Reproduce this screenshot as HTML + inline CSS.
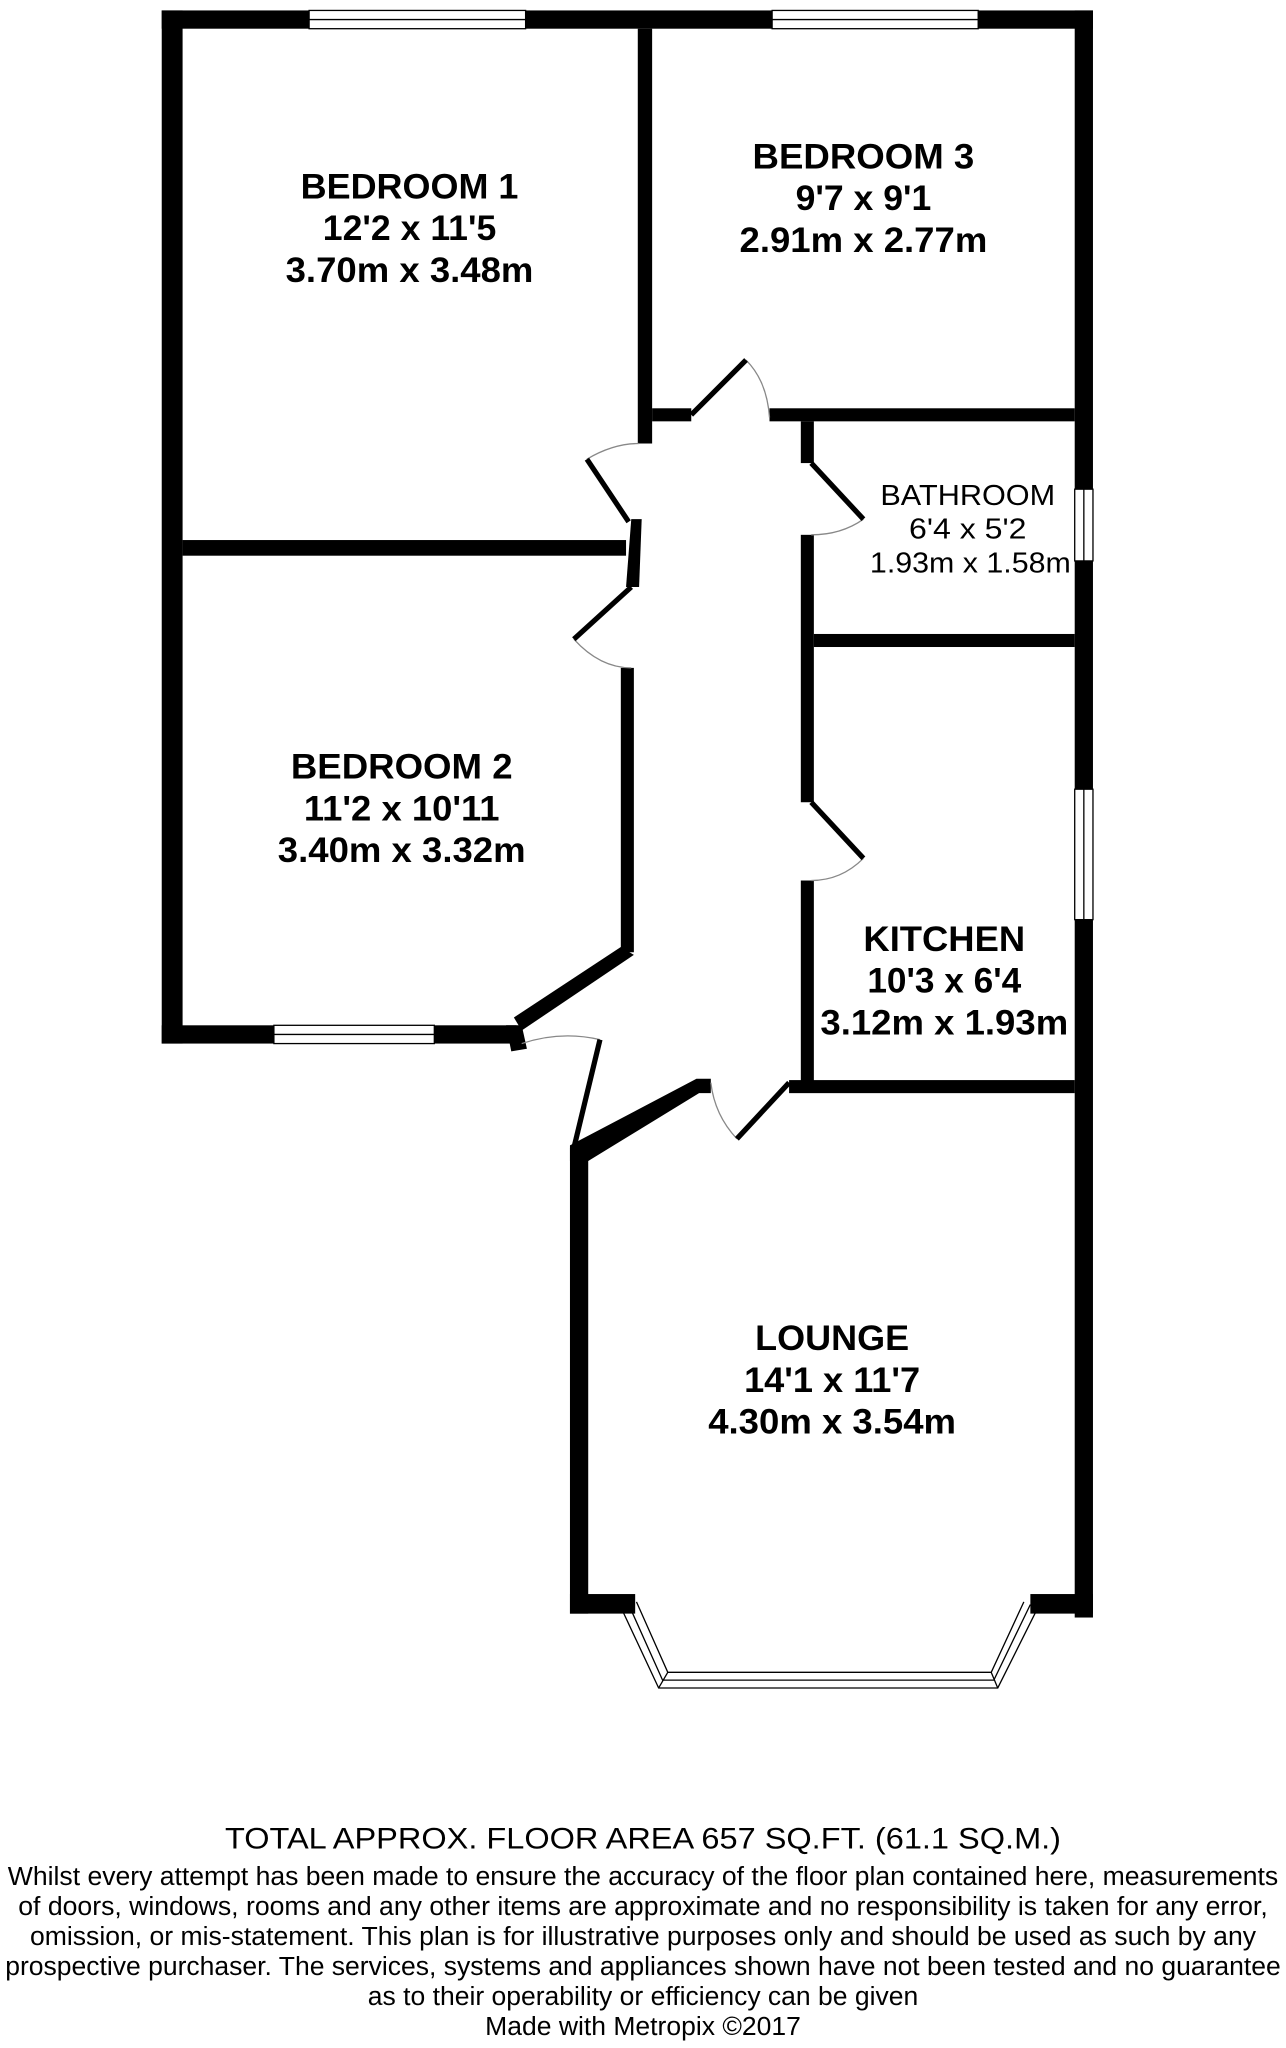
<!DOCTYPE html>
<html><head><meta charset="utf-8"><style>
html,body{margin:0;padding:0;background:#fff;}
svg{display:block}
text{font-family:"Liberation Sans Narrow","Liberation Sans",sans-serif;fill:#000}
.r{font-size:27px;font-weight:bold;text-anchor:middle}
.s{font-size:22px;text-anchor:middle}
.f{font-size:20px;text-anchor:middle}
</style></head><body>
<svg width="1286" height="2048" viewBox="0 0 986 1570" preserveAspectRatio="none" xmlns="http://www.w3.org/2000/svg">
<g fill="#000">
<!-- outer -->
<rect x="124" y="8" width="16" height="792"/>
<rect x="124" y="8" width="714" height="14"/>
<rect x="824" y="8" width="14" height="1232"/>
<!-- bed1/bed3 divider -->
<rect x="489" y="22" width="11" height="318"/>
<polygon points="484,398 492,398 490,450 480,450"/>
<!-- bed3 bottom -->
<rect x="500" y="313" width="30" height="10"/>
<rect x="590" y="313" width="234" height="10"/>
<!-- bathroom left / kitchen left -->
<rect x="614" y="323" width="10" height="32"/>
<rect x="614" y="410" width="10" height="205"/>
<rect x="614" y="675" width="10" height="160"/>
<!-- bathroom bottom -->
<rect x="624" y="486" width="200" height="10"/>
<!-- bed1 bottom -->
<rect x="140" y="414" width="340" height="12"/>
<!-- bed2 right -->
<rect x="476" y="512" width="10" height="218"/>
<polygon points="476,726 486,732 400,790 394,780"/>
<!-- bed2 bottom -->
<rect x="124" y="786" width="272" height="14"/>
<polygon points="388,786 400,786 404,804 392,806"/>
<!-- lounge top -->
<polygon points="437,878 534,827 545,827 545,838 536,838 451,890 437,890"/>
<rect x="605" y="828" width="219" height="10"/>
<!-- lounge left -->
<rect x="437" y="880" width="14" height="357"/>
<rect x="437" y="1222" width="50" height="15"/>
<rect x="790" y="1222" width="48" height="15"/>
</g>
<!-- windows -->
<g fill="#fff" stroke="#000" stroke-width="1">
<rect x="237" y="8" width="166" height="14"/>
<rect x="592" y="8" width="158" height="14"/>
<rect x="210" y="786" width="123" height="14"/>
<rect x="824" y="375" width="14" height="55"/>
<rect x="824" y="605" width="14" height="100"/>
</g>
<g stroke="#000" stroke-width="1" fill="none">
<line x1="237" y1="15" x2="403" y2="15"/><line x1="592" y1="15" x2="750" y2="15"/>
<line x1="210" y1="793" x2="333" y2="793"/><line x1="831" y1="375" x2="831" y2="430"/>
<line x1="831" y1="605" x2="831" y2="705"/>
<!-- bay -->
<polyline points="488,1228 512,1282 760,1282 785,1228"/>
<polyline points="476,1232 505,1294 765,1294 796,1232"/>
<polyline points="482,1230 508,1288 762,1288 790,1230"/>
<line x1="512" y1="1282" x2="505" y2="1294"/><line x1="760" y1="1282" x2="765" y2="1294"/>
<!-- door arcs -->
<path d="M572,276 Q588,292 590,320" stroke="#888"/>
<path d="M450,352 Q470,340 490,340" stroke="#888"/>
<path d="M440,490 Q460,512 484,512" stroke="#888"/>
<path d="M662,398 Q645,410 622,410" stroke="#888"/>
<path d="M662,658 Q645,675 622,675" stroke="#888"/>
<path d="M565,873 Q548,855 545,830" stroke="#888"/>
<path d="M400,800 Q430,790 460,797" stroke="#888"/>
</g>
<g stroke="#000" stroke-width="4" fill="none">
<line x1="530" y1="318" x2="572" y2="276"/>
<line x1="482" y1="400" x2="450" y2="352"/>
<line x1="484" y1="450" x2="440" y2="490"/>
<line x1="622" y1="355" x2="662" y2="398"/>
<line x1="622" y1="615" x2="662" y2="658"/>
<line x1="605" y1="830" x2="565" y2="873"/>
<line x1="460" y1="797" x2="440" y2="880"/>
</g>
<text class="r" x="314" y="152" textLength="167" lengthAdjust="spacingAndGlyphs">BEDROOM 1</text>
<text class="r" x="314" y="184" textLength="133" lengthAdjust="spacingAndGlyphs">12'2 x 11'5</text>
<text class="r" x="314" y="216" textLength="190" lengthAdjust="spacingAndGlyphs">3.70m x 3.48m</text>
<text class="r" x="662" y="129" textLength="170" lengthAdjust="spacingAndGlyphs">BEDROOM 3</text>
<text class="r" x="662" y="161" textLength="104" lengthAdjust="spacingAndGlyphs">9'7 x 9'1</text>
<text class="r" x="662" y="193" textLength="190" lengthAdjust="spacingAndGlyphs">2.91m x 2.77m</text>
<text class="s" x="742" y="387" textLength="134" lengthAdjust="spacingAndGlyphs">BATHROOM</text>
<text class="s" x="742" y="413" textLength="90" lengthAdjust="spacingAndGlyphs">6'4 x 5'2</text>
<text class="s" x="744" y="439" textLength="154" lengthAdjust="spacingAndGlyphs">1.93m x 1.58m</text>
<text class="r" x="308" y="597" textLength="170" lengthAdjust="spacingAndGlyphs">BEDROOM 2</text>
<text class="r" x="308" y="629" textLength="150" lengthAdjust="spacingAndGlyphs">11'2 x 10'11</text>
<text class="r" x="308" y="661" textLength="190" lengthAdjust="spacingAndGlyphs">3.40m x 3.32m</text>
<text class="r" x="724" y="729" textLength="124" lengthAdjust="spacingAndGlyphs">KITCHEN</text>
<text class="r" x="724" y="761" textLength="118" lengthAdjust="spacingAndGlyphs">10'3 x 6'4</text>
<text class="r" x="724" y="793" textLength="190" lengthAdjust="spacingAndGlyphs">3.12m x 1.93m</text>
<text class="r" x="638" y="1035" textLength="118" lengthAdjust="spacingAndGlyphs">LOUNGE</text>
<text class="r" x="638" y="1067" textLength="135" lengthAdjust="spacingAndGlyphs">14'1 x 11'7</text>
<text class="r" x="638" y="1099" textLength="190" lengthAdjust="spacingAndGlyphs">4.30m x 3.54m</text>
<text class="f" x="493" y="1417" style="font-size:23px" textLength="641" lengthAdjust="spacingAndGlyphs">TOTAL APPROX. FLOOR AREA 657 SQ.FT. (61.1 SQ.M.)</text>
<text class="f" x="493" y="1445" textLength="974" lengthAdjust="spacingAndGlyphs">Whilst every attempt has been made to ensure the accuracy of the floor plan contained here, measurements</text>
<text class="f" x="493" y="1468" textLength="958" lengthAdjust="spacingAndGlyphs">of doors, windows, rooms and any other items are approximate and no responsibility is taken for any error,</text>
<text class="f" x="493" y="1491" textLength="940" lengthAdjust="spacingAndGlyphs">omission, or mis-statement. This plan is for illustrative purposes only and should be used as such by any</text>
<text class="f" x="493" y="1514" textLength="978" lengthAdjust="spacingAndGlyphs">prospective purchaser. The services, systems and appliances shown have not been tested and no guarantee</text>
<text class="f" x="493" y="1537" textLength="422" lengthAdjust="spacingAndGlyphs">as to their operability or efficiency can be given</text>
<text class="f" x="493" y="1560" textLength="242" lengthAdjust="spacingAndGlyphs">Made with Metropix ©2017</text>
</svg>
</body></html>
